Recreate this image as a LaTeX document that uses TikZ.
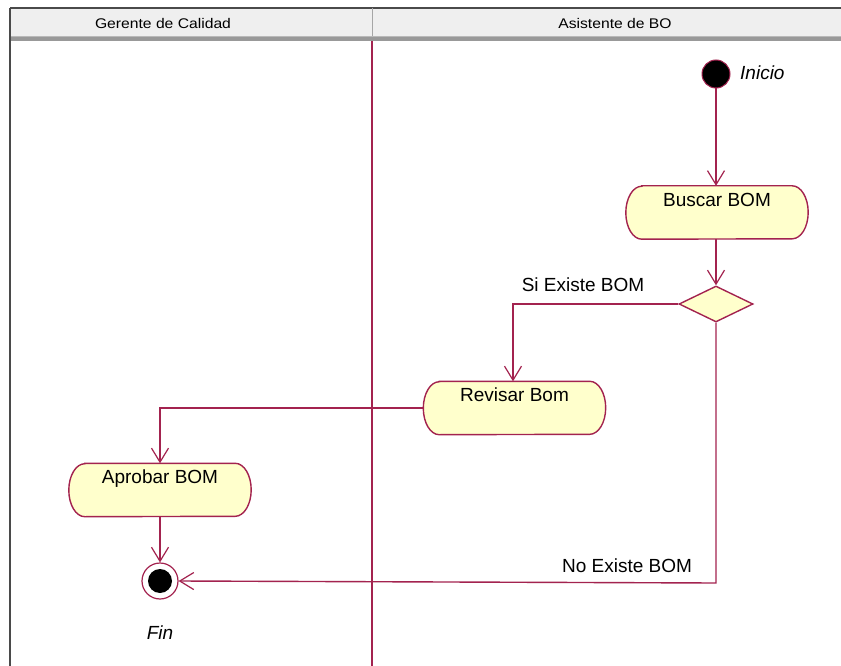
\documentclass[tikz,border=0pt]{standalone}
\usepackage{fontspec}
\setmainfont{Liberation Sans}
\usetikzlibrary{shapes.geometric,arrows.meta,backgrounds}
\definecolor{flow}{HTML}{A3234F}
\definecolor{actfill}{HTML}{FFFFCC}
\definecolor{hdrfill}{HTML}{EFEFEF}
\definecolor{hdrline}{HTML}{4A4A4A}
\tikzset{
  x=1pt, y=-1pt,
  maintext/.style={font=\fontsize{19}{22}\selectfont},
  hdrtext/.style={font=\fontsize{14}{16}\selectfont, xscale=1.12},
  action/.style={maintext, minimum width=182pt, inner xsep=4pt,
    inner ysep=6pt, text height=14pt, text depth=27pt},
  actborder/.style={draw=flow, line width=1.4pt, fill=actfill},
  decision/.style={diamond, aspect=2, draw=flow, line width=1.4pt,
    fill=actfill, minimum width=74pt, minimum height=36pt, inner sep=0pt},
  startnode/.style={circle, draw=flow, line width=1pt, fill=black,
    minimum size=28pt, inner sep=0pt},
  endouter/.style={circle, draw=flow, line width=1.2pt, fill=white,
    minimum size=36pt, inner sep=0pt},
  flowline/.style={draw=flow, line width=1.4pt,
    -{Straight Barb[length=14pt,width=17pt,line width=1.2pt]}},
  guard/.style={maintext, inner sep=0pt},
}
% outline of an action state: straight top and bottom, elliptic ends
\newcommand{\actionoutline}[1]{%
  \path[actborder]
    ([xshift=16pt]#1.north west) -- ([xshift=-16pt]#1.north east)
    arc[start angle=90, end angle=-90, x radius=16pt, y radius=26.5pt]
    -- ([xshift=16pt]#1.south west)
    arc[start angle=270, end angle=90, x radius=16pt, y radius=26.5pt]
    -- cycle;}
\begin{document}
\begin{tikzpicture}
\useasboundingbox (0,0) rectangle (841,666);

% nodes
\node[startnode] (ini) at (716,74) {};
\node[maintext, font=\fontsize{19}{22}\selectfont\itshape, anchor=west, inner sep=0pt]
  (iniL) at (740,73) {Inicio};
\node[action] (buscar) at (717,212.5) {Buscar BOM};
\node[decision] (dec) at (716,304) {};
\node[action] (revisar) at (514.5,408) {Revisar Bom};
\node[action] (aprobar) at (160,490) {Aprobar BOM};
\node[endouter] (fin) at (160,581) {};
\fill[black] (fin.center) circle (12pt);
\node[maintext, font=\fontsize{19}{22}\selectfont\itshape] (finL) at (160,633) {Fin};
\coordinate (noTurn) at (716,583);

% connectors
\draw[flowline] (ini) -- (buscar.north -| ini);
\draw[flowline] (buscar.south -| dec) -- (dec.north);
\draw[flowline] (dec.west) -| (revisar.north -| 513,0);
\draw[flowline] (revisar.west) -| (aprobar.north);
\draw[flowline] (aprobar.south) -- (fin.north);
\draw[flowline] (dec.south) -- (noTurn) -- (fin.east);

% guards
\node[guard] (siL) at (583,285) {Si Existe BOM};
\node[guard] (noL) at (627,566) {No Existe BOM};

\begin{scope}[on background layer]
  \fill[white] (0,0) rectangle (841,666);
  % swimlane header
  \fill[hdrfill] (10,8) rectangle (841,36);
  \fill[gray!80] (10,36) rectangle (841,41);
  \draw[gray!55, line width=0.8pt] (10,36.5) -- (841,36.5);
  \draw[hdrline, line width=1.5pt] (10,8) -- (841,8);
  \draw[hdrline, line width=1.5pt] (10,8) -- (10,666);
  \draw[gray!70, line width=1pt] (372,8) -- (372,36);
  % lane separator
  \draw[flow, line width=1.4pt] (372,41) -- (372,666);
  % action outlines (the connectors pass over them)
  \actionoutline{buscar}
  \actionoutline{revisar}
  \actionoutline{aprobar}
\end{scope}
\node[hdrtext] (laneA) at (163,23) {Gerente de Calidad};
\node[hdrtext] (laneB) at (615,23) {Asistente de BO};
\end{tikzpicture}
\end{document}
